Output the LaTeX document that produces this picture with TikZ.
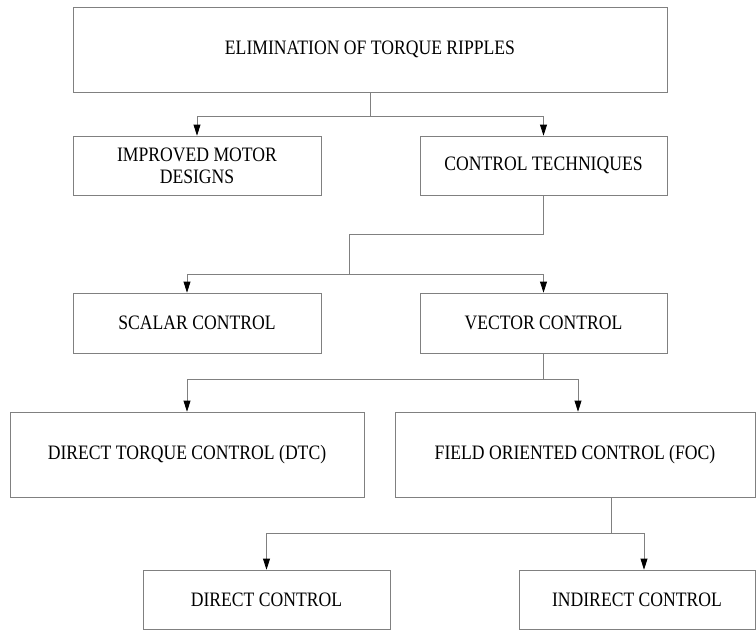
\documentclass[tikz,border=0pt]{standalone}
\usepackage{fontspec}
\setmainfont{Liberation Serif}[FakeStretch=0.86]
\usetikzlibrary{arrows.meta}
\tikzset{
  box/.style={draw=black!50, line width=0.8pt, fill=white, align=center, inner sep=0pt,
    font=\fontsize{20.5}{22}\selectfont},
  conn/.style={draw=black!50, line width=0.8pt},
  arr/.style={conn, -{Triangle[length=11pt,width=7pt,color=black]}},
}
\begin{document}
\begin{tikzpicture}[x=1pt,y=-1pt]
\useasboundingbox (0,0) rectangle (756,630);
\fill[white] (0,0) rectangle (756,630);
% boxes: center, width, height
\node[box, minimum width=594pt, minimum height=85pt] (top) at (370,49.5) {ELIMINATION OF TORQUE RIPPLES};
\node[box, minimum width=248pt, minimum height=59pt] (imp) at (197,165.5) {IMPROVED MOTOR\\DESIGNS};
\node[box, minimum width=247pt, minimum height=59pt] (ctrl) at (543.5,165.5) {CONTROL TECHNIQUES};
\node[box, minimum width=248pt, minimum height=60pt] (scalar) at (197,323) {SCALAR CONTROL};
\node[box, minimum width=247pt, minimum height=60pt] (vector) at (543.5,323) {VECTOR CONTROL};
\node[box, minimum width=354pt, minimum height=85pt] (dtc) at (187,454.5) {DIRECT TORQUE CONTROL (DTC)};
\node[box, minimum width=360pt, minimum height=85pt] (foc) at (575,454.5) {FIELD ORIENTED CONTROL (FOC)};
\node[box, minimum width=247pt, minimum height=59pt] (dc) at (266.5,599.5) {DIRECT CONTROL};
\node[box, minimum width=236pt, minimum height=59pt] (ic) at (637,599.5) {INDIRECT CONTROL};
% connectors
\coordinate (j1) at (370,116);
\draw[conn] (top.south) -- (j1);
\draw[arr] (j1) -| (imp.north);
\draw[arr] (j1) -| (ctrl.north);
\coordinate (j2) at (349,234);
\coordinate (j3) at (349,274);
\draw[conn] (ctrl.south) |- (j2) -- (j3);
\draw[arr] (j3) -| ([xshift=-10pt]scalar.north);
\draw[arr] (j3) -| (vector.north);
\coordinate (j4) at (543.5,379);
\draw[conn] (vector.south) -- (j4);
\draw[arr] (j4) -| (dtc.north);
\draw[arr] (j4) -| ([xshift=3pt]foc.north);
\coordinate (j5) at (611,533);
\draw[conn] (foc.south -| j5) -- (j5);
\draw[arr] (j5) -| (dc.north);
\draw[arr] (j5) -| ([xshift=7pt]ic.north);
\end{tikzpicture}
\end{document}
